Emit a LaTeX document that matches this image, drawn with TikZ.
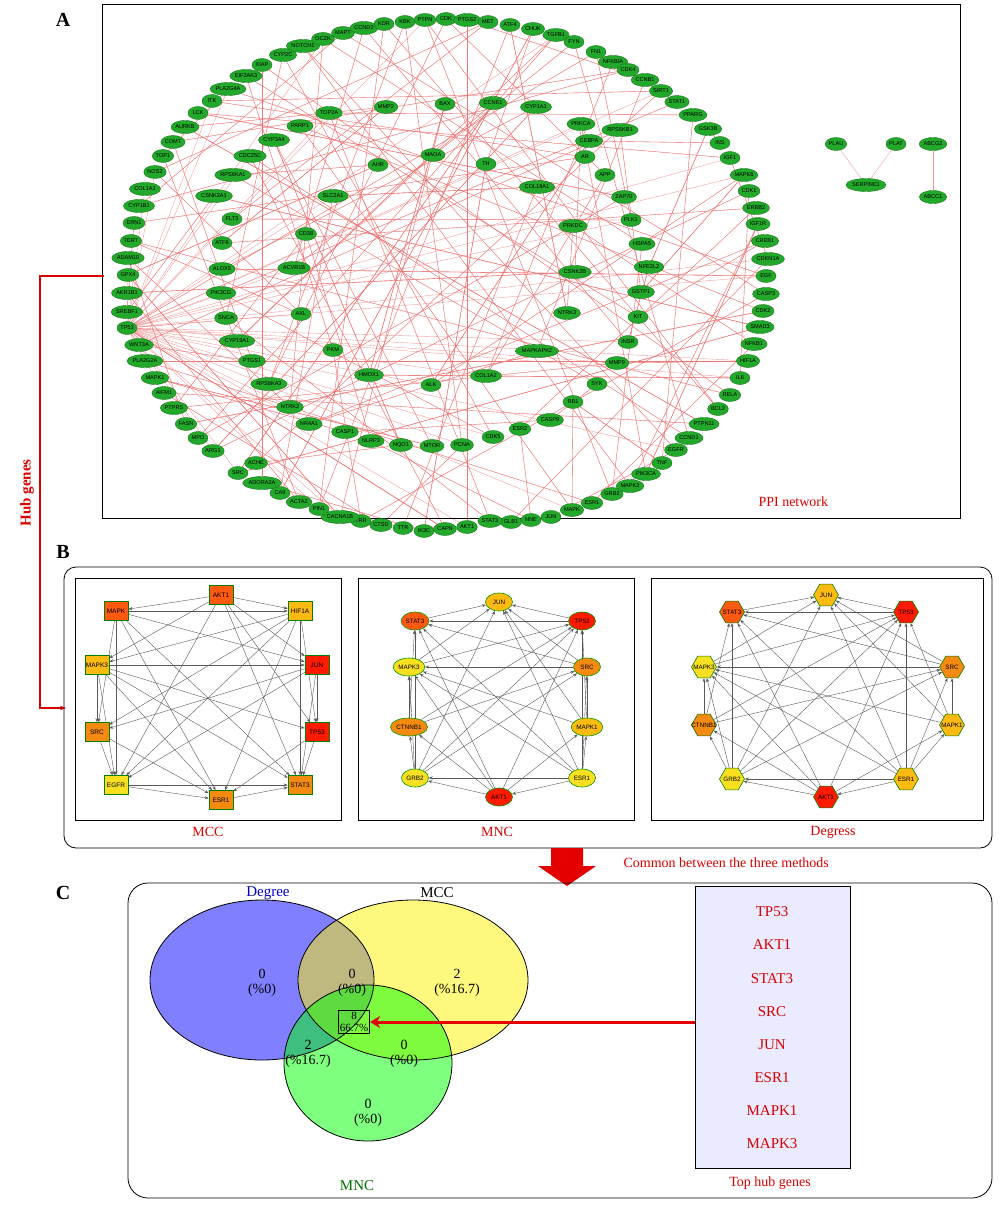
\documentclass[tikz,border=0pt]{standalone}
\usepackage{fontspec}
\setmainfont{Liberation Serif}
\setsansfont{Liberation Sans}
\usetikzlibrary{shapes.geometric,arrows.meta}
\pgfdeclarelayer{bg}\pgfsetlayers{bg,main}
\definecolor{ng}{HTML}{22A82A}
\definecolor{pe}{HTML}{EE7070}
\definecolor{cR}{HTML}{FF1A00}
\definecolor{cOR}{HTML}{FF5A10}
\definecolor{cO}{HTML}{F58A10}
\definecolor{cYO}{HTML}{FDBA10}
\definecolor{cY}{HTML}{F8E020}
\begin{document}
\begin{tikzpicture}[x=1pt,y=-1pt,
 pn/.style={ellipse,fill=ng,draw=ng!70!black,line width=0.4pt,minimum width=20pt,minimum height=13pt,inner sep=0.3pt,font=\sffamily\fontsize{5.6}{6}\selectfont},
 ppie/.style={pe,line width=0.35pt,opacity=0.75},
 sq/.style={rectangle,draw=green!50!black,line width=0.6pt,minimum width=24pt,minimum height=19pt,inner sep=1pt,font=\sffamily\fontsize{6.5}{7}\selectfont},
 el/.style={ellipse,draw=green!60!black,line width=0.6pt,minimum width=27pt,minimum height=18pt,inner sep=0.5pt,font=\sffamily\fontsize{6.3}{7}\selectfont},
 hx/.style={regular polygon,regular polygon sides=6,draw=green!50!black,line width=0.6pt,minimum size=25pt,inner sep=0pt},
 hl/.style={font=\sffamily\fontsize{6.3}{7}\selectfont,inner sep=0pt},
 be/.style={gray!70!black,line width=0.4pt,-{Stealth[length=4pt,width=3pt]}},
 rl/.style={red!85!black,font=\fontsize{14}{16}\selectfont}]
\useasboundingbox (0,0) rectangle (1000,1206);
% Panel A
\node[font=\bfseries\fontsize{20}{22}\selectfont] (lA) at (63,20) {A};
\draw[line width=0.8pt] (102,4) rectangle (960,518);
\foreach \n/\x/\y [count=\i] in {MAPT/343/33,CCND2/364/28,KDR/384/24,KBK/405/22,PTPN/425/20,CDK/446/19,PTGS2/467/20,MET/488/22,ATF4/510/25,CHUK/533/29,TGFB1/556/35,FYN/574/42,FN1/596/52,NFKBIA/613/62,CDK4/628/70,CCNB1/645/80,SIRT1/661/91,STAT1/677/102,PPARG/693/115,GSK3B/708/129,INS/720/143,IGF1/730/158,MAPK8/744/175,CDK1/749/191,ERBB2/756/208,IGF1R/758/224,CREB1/765/241,CDKN1A/768/259,EGF/766/276,CASP3/766/294,CDK2/763/311,SMAD3/760/327,NFKB1/754/344,HIF1A/748/361,IL6/740/378,RELA/730/395,BCL2/718/409,PTPN11/704/424,CCND1/689/438,EGFR/676/450,TNF/662/463,PIK3CA/646/474,MAPK3/630/486,GRB2/612/494,ESR1/592/503,MAPK/572/510,JUN/551/517,NNE/531/520,GLB1/511/522,STAT3/490/521,AKT1/467/527,CAPN/445/529,IK3C/424/531,TTR/403/528,CTSD/381/525,TRR/361/521,CACNA1B/340/517,PIN1/319/509,ACTA2/299/502,CA9/280/493,ADORA2A/262/483,ACHE/256/463,SRC/238/473,ARG1/213/451,MPO/198/438,FASN/186/424,PTPRS/174/408,AIFM1/164/393,MAPK1/155/378,PLA2G2A/145/361,WNT3A/139/345,TP53/127/328,SREBF1/127/312,AKR1B1/127/293,GPX4/128/275,ADAM10/128/258,TERT/131/241,ERN1/134/223,CYP1B1/139/206,COL1A1/145/189,NOS2/155/172,TOP1/163/156,COMT/173/142,AURKB/185/127,LCK/198/113,ITK/212/101,PLA2G4A/228/89,EIF2AK3/246/76,XIAP/262/65,CYP2C/283/55,NOTCH1/303/46,OCZK/323/39}
  \node[pn] (p\i) at (\x,\y) {\n};
\foreach \n/\x/\y [count=\i from 93] in {TOP2A/329/113,MMP2/386/107,BAX/445/104,CCNE1/493/103,CYP1A1/536/107,PRKCA/581/124,RPS6KB1/620/130,CEBPA/589/141,AR/585/157,APP/605/175,ZAP70/624/197,PLK1/631/220,HSPA5/642/244,NFE2L2/649/267,GSTP1/641/292,KIT/638/317,INSR/628/342,MMP9/617/363,SYK/597/384,RB1/573/402,CASP9/550/420,ESR2/520/429,CDK5/493/437,PCNA/462/445,MTOR/432/446,NQO1/401/445,NLRP3/371/441,CASP1/345/432,NR4A1/309/424,NTRK2/290/407,RPS6KA3/269/384,PTGS1/252/361,CYP19A1/237/341,SNCA/226/318,PIK3CG/221/293,ALOX5/222/269,ATF6/222/243,FLT3/232/219,CSNK2A1/214/196,RPS6KA1/233/175,CDC25C/250/156,CYP3A4/274/140,PARP1/300/126,MAOA/433/155,TH/486/164,AHR/378/165,SLC2A1/333/196,COL18A1/537/187,CD38/306/234,PRKDC/573/226,CSNK2B/575/272,ACVR1B/294/268,AXL/301/314,NTRK3/567/313,PKM/333/350,MAPKAPK2/537/351,HMOX1/369/375,ALK/431/385,COL1A2/486/376}
  \node[pn] (p\i) at (\x,\y) {\n};
\begin{pgfonlayer}{bg}
\foreach \k in {1,...,330}{
  \pgfmathtruncatemacro\r{mod(\k,151)}
  \pgfmathtruncatemacro\a{mod(\r*37,151)+1}
  \pgfmathtruncatemacro\b{mod(\r*53+29+\k,151)+1}
  \ifnum\a=\b\else\draw[ppie] (p\a) -- (p\b);\fi}
\foreach \k in {1,...,40}{
  \pgfmathtruncatemacro\b{mod(\k*29+5,151)+1}
  \ifnum\b=72\else\draw[ppie] (p72) -- (p\b);\fi}
\end{pgfonlayer}
\node[pn] (plau) at (836,144) {PLAU};
\node[pn] (plat) at (896,144) {PLAT};
\node[pn] (abcg) at (933,144) {ABCG2};
\node[pn] (serp) at (866,185) {SERPINE1};
\node[pn] (abcc) at (933,197) {ABCC1};
\draw[ppie] (plau) -- (serp); \draw[ppie] (plat) -- (serp); \draw[ppie] (abcg) -- (abcc);
\node[rl,anchor=west] (ppil) at (755,502) {PPI network};
% hub genes
\coordinate (h1) at (40,276); \coordinate (h2) at (40,708); \coordinate (h3) at (66,708);
\draw[red!85!black,line width=1.2pt,-{Stealth[length=6pt]}] (104,276) -- (h1) -- (h2) -- (h3);
\node[red!85!black,font=\bfseries\fontsize{15}{16}\selectfont,rotate=90] (hub) at (27,493) {Hub genes};
% Panel B
\node[font=\bfseries\fontsize{20}{22}\selectfont] (lB) at (63,552) {B};
\draw[line width=0.8pt,rounded corners=12pt] (64,567) rectangle (992,848);
\draw[line width=0.6pt] (75,578) rectangle (341,820);
\draw[line width=0.6pt] (358,578) rectangle (634,820);
\draw[line width=0.6pt] (651,578) rectangle (983,820);
\node[rl] (mcc) at (208,832) {MCC};
\node[rl] (mnc) at (497,832) {MNC};
\node[rl] (dgs) at (833,832) {Degress};
\foreach \n/\x/\y/\c [count=\i] in {AKT1/221/595/cOR,MAPK/116/611/cOR,HIF1A/300/611/cYO,MAPK3/97/665/cYO,JUN/317/665/cR,SRC/97/732/cO,TP53/317/732/cR,EGFR/116/785/cY,ESR1/221/800/cO,STAT3/300/785/cO}
  \node[sq,fill=\c] (m\i) at (\x,\y) {\n};
\foreach \n/\x/\y/\c [count=\i] in {JUN/499/602/cYO,STAT3/415/621/cOR,TP53/582/621/cR,MAPK3/409/667/cY,SRC/587/667/cO,CTNNB1/409/727/cO,MAPK1/587/727/cYO,GRB2/415/778/cY,AKT1/499/797/cR,ESR1/582/778/cY}
  \node[el,fill=\c] (n\i) at (\x,\y) {\n};
\foreach \n/\x/\y/\c [count=\i] in {JUN/826/595/cYO,STAT3/732/612/cOR,TP53/906/612/cR,MAPK3/704/667/cY,SRC/952/667/cO,CTNNB1/704/725/cO,MAPK1/952/725/cYO,GRB2/732/779/cY,AKT1/826/797/cR,ESR1/906/779/cYO}
  \node[hx,fill=\c,label={[hl]center:\n}] (d\i) at (\x,\y) {};
\begin{pgfonlayer}{bg}
\foreach \i in {1,...,10}{\foreach \j in {1,...,10}{\ifnum\j>\i
  \pgfmathtruncatemacro\s{mod(\i*3+\j*7,11)}
  \ifnum\s>1
  \draw[be] (m\i) -- (m\j); \draw[be] (n\j) -- (n\i); \draw[be] (d\j) -- (d\i);
  \fi\fi}}
\end{pgfonlayer}
% big arrow
\coordinate (ba) at (567,886);
\fill[red!90!black] (551,848) -- (583,848) -- (583,866) -- (596,866) -- (ba) -- (538,866) -- (551,866) -- cycle;
\node[rl,anchor=west] (cmn) at (620,863) {Common between the three methods};
% Panel C
\node[font=\bfseries\fontsize{20}{22}\selectfont] (lC) at (63,893) {C};
\draw[line width=0.8pt,rounded corners=20pt] (128,883) rectangle (992,1198);
\begin{scope}[draw=black,line width=0.8pt]
\fill[blue,fill opacity=0.5] (262,980) ellipse [x radius=112,y radius=80];
\fill[yellow,fill opacity=0.5] (413,980) ellipse [x radius=115,y radius=80];
\fill[green,fill opacity=0.5] (368,1063) ellipse [x radius=84,y radius=78];
\draw (262,980) ellipse [x radius=112,y radius=80];
\draw (413,980) ellipse [x radius=115,y radius=80];
\draw (368,1063) ellipse [x radius=84,y radius=78];
\end{scope}
\begin{scope}[every node/.style={align=center,font=\fontsize{14}{15}\selectfont}]
\node (v1) at (262,983) {0\\(\%0)};
\node (v2) at (352,983) {0\\(\%0)};
\node (v3) at (457,983) {2\\(\%16.7)};
\node (v5) at (308,1054) {2\\(\%16.7)};
\node (v6) at (404,1054) {0\\(\%0)};
\node (v7) at (368,1113) {0\\(\%0)};
\end{scope}
\node[draw,line width=0.8pt,align=center,font=\fontsize{11}{12}\selectfont,inner sep=1.5pt] (v4) at (354,1022) {8\\66.7\%};
\node[blue!80!black,font=\fontsize{15}{16}\selectfont] (lD) at (268,893) {Degree};
\node[font=\fontsize{15}{16}\selectfont] (lM) at (437,893) {MCC};
\node[green!45!black,font=\fontsize{15}{16}\selectfont] (lN) at (357,1186) {MNC};
\node[draw,line width=0.8pt,fill=blue!8!white,minimum width=155pt,minimum height=282pt] (box) at (772.5,1027) {};
\foreach \g/\y [count=\i] in {TP53/912,AKT1/945,STAT3/979,SRC/1012,JUN/1045,ESR1/1078,MAPK1/1111,MAPK3/1144}
  \node[rl,font=\fontsize{15}{16}\selectfont] (g\i) at (772,\y) {\g};
\node[rl] (thg) at (770,1183) {Top hub genes};
\draw[red!90!black,line width=3pt,-{Stealth[length=10pt,width=12pt]}] (box.west |- v4) -- (v4.east);
\end{tikzpicture}
\end{document}
